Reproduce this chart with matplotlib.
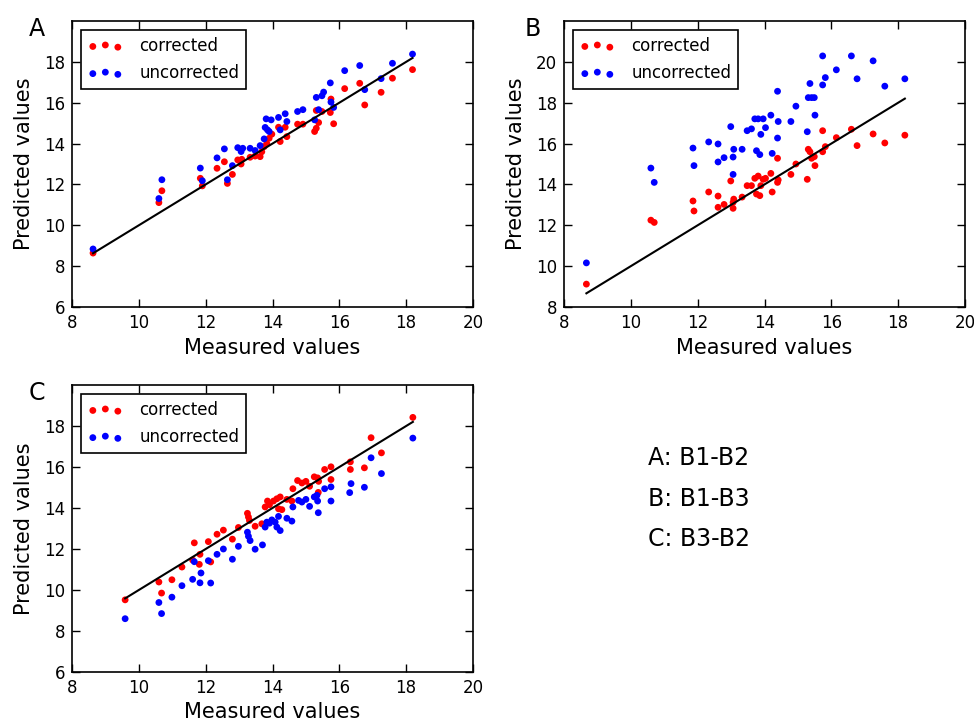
import numpy as np
import matplotlib
matplotlib.use("Agg")
import matplotlib.pyplot as plt

# panel A: B1-B2
a_corr_x = [8.63, 10.6, 10.69, 11.84, 11.9, 12.34, 12.56, 12.65, 12.8, 12.96, 13.06, 13.08,
            13.33, 13.48, 13.63, 13.68, 13.75, 13.83, 13.9, 13.98, 14.18, 14.23, 14.38, 14.43,
            14.75, 14.91, 15.26, 15.31, 15.38, 15.48, 15.31, 15.73, 15.75, 15.83, 16.16, 16.61,
            16.76, 17.25, 17.59, 18.19]
a_corr_y = [8.64, 11.11, 11.69, 12.3, 11.93, 12.79, 13.11, 12.05, 12.49, 13.2, 13.0, 13.23,
            13.33, 13.39, 13.36, 13.6, 13.85, 14.0, 14.26, 14.46, 14.8, 14.1, 14.8, 14.34,
            14.95, 14.95, 14.59, 14.75, 15.03, 15.57, 15.62, 15.52, 16.18, 14.97, 16.69, 16.95,
            15.89, 16.51, 17.2, 17.62]
a_unc_x = [8.63, 10.6, 10.69, 11.84, 11.9, 12.34, 12.56, 12.65, 12.8, 12.96, 13.06, 13.11,
           13.33, 13.48, 13.63, 13.75, 13.78, 13.81, 13.85, 13.9, 13.96, 14.18, 14.23, 14.38,
           14.43, 14.75, 14.91, 15.26, 15.31, 15.38, 15.48, 15.53, 15.73, 15.75, 15.83, 16.16,
           16.61, 16.76, 17.25, 17.59, 18.19]
a_unc_y = [8.84, 11.31, 12.23, 12.8, 12.18, 13.3, 13.74, 12.23, 12.92, 13.8, 13.61, 13.77,
           13.77, 13.66, 13.9, 14.23, 14.79, 15.21, 14.67, 14.59, 15.16, 15.28, 14.67, 15.46,
           15.08, 15.57, 15.66, 15.16, 16.26, 15.66, 16.34, 16.52, 16.97, 16.03, 15.77, 17.57,
           17.82, 16.64, 17.18, 17.93, 18.38]

# panel B: B1-B3
b_x = [8.67, 10.6, 10.7, 11.86, 11.89, 12.33, 12.61, 12.61, 12.79, 12.99, 13.06, 13.08,
       13.06, 13.33, 13.48, 13.61, 13.71, 13.76, 13.86, 13.81, 13.89, 13.96, 14.03, 14.19,
       14.23, 14.39, 14.39, 14.41, 14.79, 14.94, 15.28, 15.31, 15.36, 15.41, 15.49, 15.51,
       15.74, 15.74, 15.82, 16.15, 16.6, 16.77, 17.25, 17.6, 18.2]
b_corr_y = [9.12, 12.25, 12.14, 13.19, 12.7, 13.63, 13.43, 12.88, 13.02, 14.17, 13.12, 13.28,
            12.83, 13.38, 13.94, 13.94, 14.3, 13.53, 13.45, 14.41, 13.94, 14.25, 14.3, 14.54,
            13.63, 15.28, 14.1, 14.22, 14.49, 15.0, 14.25, 15.72, 15.6, 15.28, 15.36, 14.92,
            16.63, 15.6, 15.85, 16.29, 16.7, 15.9, 16.47, 16.03, 16.41]
b_unc_y = [10.16, 14.8, 14.1, 15.78, 14.92, 16.08, 15.98, 15.1, 15.31, 16.83, 15.34, 15.72,
           14.49, 15.72, 16.63, 16.72, 17.21, 15.65, 15.46, 17.21, 16.45, 17.21, 16.78, 17.39,
           15.52, 18.56, 16.27, 17.08, 17.08, 17.83, 16.58, 18.25, 18.94, 18.25, 18.25, 17.39,
           20.29, 18.87, 19.23, 19.61, 20.29, 19.17, 20.05, 18.81, 19.17]

# panel C: B3-B2
c_corr_x = [9.59, 10.6, 10.68, 10.99, 11.29, 11.61, 11.66, 11.83, 11.81, 12.08, 12.15, 12.34,
            12.53, 12.8, 12.98, 13.25, 13.28, 13.31, 13.48, 13.68, 13.78, 13.85, 13.91, 14.03,
            14.13, 14.18, 14.23, 14.28, 14.43, 14.58, 14.61, 14.75, 14.88, 15.0, 15.11, 15.25,
            15.35, 15.38, 15.37, 15.56, 15.75, 15.75, 16.33, 16.33, 16.75, 16.95, 17.26, 18.2]
c_corr_y = [9.52, 10.39, 9.85, 10.5, 11.12, 11.46, 12.3, 11.74, 11.25, 12.36, 11.37, 12.72,
            12.92, 12.48, 13.05, 13.74, 13.56, 13.39, 13.11, 13.23, 14.05, 14.34, 14.16, 14.34,
            14.45, 13.96, 14.54, 13.92, 14.42, 14.34, 14.94, 15.34, 15.22, 15.3, 15.06, 15.52,
            15.47, 15.3, 14.76, 15.88, 16.01, 15.39, 16.25, 15.88, 15.96, 17.43, 16.69, 18.42]
c_unc_x = [9.59, 10.6, 10.68, 10.99, 11.29, 11.61, 11.66, 11.83, 11.86, 12.08, 12.15, 12.34,
           12.53, 12.8, 12.98, 13.25, 13.28, 13.33, 13.48, 13.7, 13.78, 13.83, 13.91, 13.98,
           14.08, 14.13, 14.18, 14.23, 14.43, 14.58, 14.61, 14.78, 14.88, 15.0, 15.11, 15.25,
           15.35, 15.33, 15.37, 15.56, 15.75, 15.75, 16.31, 16.35, 16.75, 16.95, 17.26, 18.2]
c_unc_y = [8.6, 9.39, 8.85, 9.65, 10.21, 10.52, 11.38, 10.35, 10.83, 11.43, 10.34, 11.74,
           12.0, 11.5, 12.13, 12.82, 12.62, 12.41, 11.99, 12.2, 13.07, 13.31, 13.26, 13.42,
           13.31, 13.07, 13.59, 12.9, 13.5, 13.36, 14.05, 14.37, 14.29, 14.42, 14.08, 14.54,
           14.34, 14.62, 13.77, 14.94, 15.03, 14.34, 14.75, 15.19, 15.01, 16.45, 15.68, 17.41]

panels = [
    ("A", a_corr_x, a_corr_y, a_unc_x, a_unc_y, (6, 20), [6, 8, 10, 12, 14, 16, 18]),
    ("B", b_x, b_corr_y, b_x, b_unc_y, (8, 22), [8, 10, 12, 14, 16, 18, 20]),
    ("C", c_corr_x, c_corr_y, c_unc_x, c_unc_y, (6, 20), [6, 8, 10, 12, 14, 16, 18]),
]
notes = ["A: B1-B2", "B: B1-B3", "C: B3-B2"]

W, H = 974, 722
fig = plt.figure(figsize=(W / 100, H / 100), dpi=100)
fig.patch.set_facecolor("white")

# axes boxes in pixels: left, top, right, bottom
boxes = [(72, 21, 473, 307), (564, 21, 965, 307), (72, 385, 473, 672)]
label_pos = [(37, 29), (533, 29), (37, 393)]

for (name, cx, cy, ux, uy, ylim, yt), (l, t, r, b), (lx, ly) in zip(panels, boxes, label_pos):
    ax = fig.add_axes([l / W, 1 - b / H, (r - l) / W, (b - t) / H])
    ax.scatter(cx, cy, s=24, c="red", edgecolors="none", label="corrected", zorder=3)
    ax.scatter(ux, uy, s=24, c="blue", edgecolors="none", label="uncorrected", zorder=3)
    lo = min(min(cx), min(ux))
    hi = max(max(cx), max(ux))
    ax.plot([lo, hi], [lo, hi], color="black", lw=1.5, zorder=4)
    ax.set_xlim(8, 20)
    ax.set_ylim(*ylim)
    ax.set_xticks([8, 10, 12, 14, 16, 18, 20])
    ax.set_yticks(yt)
    ax.tick_params(direction="in", top=True, right=True, length=6, width=1,
                   labelsize=12, pad=5)
    for sp in ax.spines.values():
        sp.set_linewidth(1.2)
    ax.set_xlabel("Measured values", fontsize=15, labelpad=4)
    ax.set_ylabel("Predicted values", fontsize=15, labelpad=7)
    leg = ax.legend(loc="upper left", scatterpoints=3, fontsize=12, fancybox=False,
                    framealpha=1, edgecolor="black", borderaxespad=0.55,
                    handlelength=2.1, handletextpad=1.0, borderpad=0.4,
                    labelspacing=0.55)
    leg.get_frame().set_linewidth(1.2)
    fig.text(lx / W, 1 - ly / H, name, fontsize=17, ha="center", va="center")

for i, txt in enumerate(notes):
    fig.text(648 / W, 1 - (458 + 40.5 * i) / H, txt, fontsize=17, ha="left", va="center")

fig.savefig("out.png", dpi=100, facecolor="white")
